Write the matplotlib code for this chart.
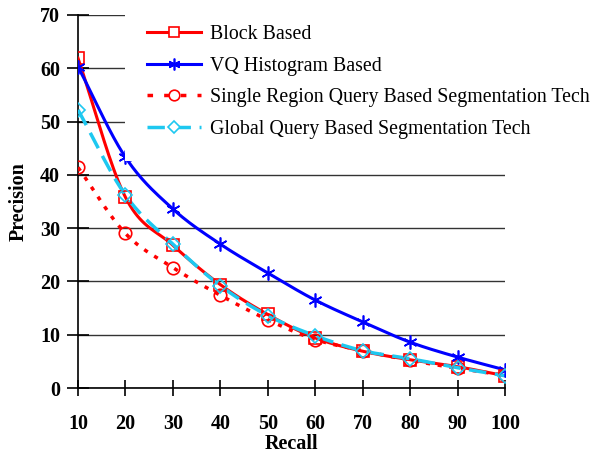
import numpy as np
import matplotlib
matplotlib.use('Agg')
import matplotlib.pyplot as plt
from matplotlib.lines import Line2D

plt.rcParams['font.family'] = ['Liberation Serif', 'DejaVu Serif']

recall = [10, 20, 30, 40, 50, 60, 70, 80, 90, 100]
block_based = [61.9, 35.8, 26.8, 19.4, 13.8, 9.4, 6.9, 5.3, 4.0, 2.3]
vq_histogram = [60.3, 43.3, 33.6, 27.0, 21.6, 16.5, 12.4, 8.6, 5.8, 3.4]
single_region = [41.4, 29.0, 22.6, 17.4, 12.8, 9.1, 7.0, 5.2, 3.7, 2.4]
global_query = [52.2, 36.2, 27.0, 19.2, 13.6, 9.8, 7.0, 5.5, 3.8, 2.3]

labels = ['Block Based', 'VQ Histogram Based',
          'Single Region Query Based Segmentation Tech',
          'Global Query Based Segmentation Tech']


def smooth(x, y, n=20):
    # catmull-rom curve through the points, like excel's smoothed line
    x = np.asarray(x, float)
    y = np.asarray(y, float)
    px = np.concatenate([[2 * x[0] - x[1]], x, [2 * x[-1] - x[-2]]])
    py = np.concatenate([[2 * y[0] - y[1]], y, [2 * y[-1] - y[-2]]])
    xs, ys = [], []
    t = np.linspace(0, 1, n, endpoint=False)
    for i in range(1, len(px) - 2):
        for p, out in ((px, xs), (py, ys)):
            p0, p1, p2, p3 = p[i - 1], p[i], p[i + 1], p[i + 2]
            out.extend(0.5 * ((2 * p1) + (-p0 + p2) * t
                              + (2 * p0 - 5 * p1 + 4 * p2 - p3) * t ** 2
                              + (-p0 + 3 * p1 - 3 * p2 + p3) * t ** 3))
    xs.append(x[-1])
    ys.append(y[-1])
    return xs, ys


fig = plt.figure(figsize=(5.9, 4.54), dpi=100)
ax = fig.add_axes([78 / 590, 66 / 454, 427 / 590, 373 / 454])

red = '#FF0000'
blue = '#0000FF'
cyan = '#1EC8F0'

styles = [
    dict(color=red, ls='-', marker='s', lw=2.2, ms=9),
    dict(color=blue, ls='-', marker=(6, 2, 0), lw=2.2, ms=10),
    dict(color=red, ls=(0, (1.2, 2.2)), marker='o', lw=2.5, ms=9),
    dict(color=cyan, ls=(0, (5, 2.5)), marker='D', lw=2.5, ms=7.5),
]
series = [block_based, vq_histogram, single_region, global_query]

handles = []
for vals, st, lab in zip(series, styles, labels):
    sx, sy = smooth(recall, vals)
    ax.plot(sx, sy, color=st['color'], ls=st['ls'], lw=st['lw'], zorder=3)
    ax.plot(recall, vals, ls='none', marker=st['marker'], ms=st['ms'],
            mfc='none', mec=st['color'], mew=1.2, zorder=4)
    leg_ls = (0, (1.6, 3.2)) if lab.startswith('Single') else st['ls']
    handles.append(Line2D([], [], color=st['color'], ls=leg_ls, lw=st['lw'],
                          marker=st['marker'], ms=st['ms'] * 0.85, mfc='white',
                          mec=st['color'], mew=1.2))

ax.set_xlim(10, 100)
ax.set_ylim(0, 70)
ax.set_xticks(recall)
ax.set_yticks(range(0, 71, 10))
ax.yaxis.grid(True, color='#333333', lw=1.0)
ax.set_axisbelow(True)
for s in ['top', 'right']:
    ax.spines[s].set_visible(False)
for s in ['left', 'bottom']:
    ax.spines[s].set_linewidth(1.2)
ax.tick_params(direction='inout', length=12, width=1.2, labelsize=14.5, pad=13)
ax.tick_params(axis='y', length=16, pad=5)
for lbl in ax.get_xticklabels() + ax.get_yticklabels():
    lbl.set_fontweight('bold')

ax.set_xlabel('Recall', fontsize=14.5, fontweight='bold', labelpad=0)
ax.set_ylabel('Precision', fontsize=14.5, fontweight='bold', labelpad=8)

leg = fig.legend(handles, labels, loc='upper left',
                 bbox_to_anchor=(125 / 590, 1 - 3 / 454),
                 fontsize=14.3, frameon=True, facecolor='white', edgecolor='none',
                 fancybox=False, framealpha=1, handlelength=2.75,
                 handletextpad=0.42, labelspacing=0.64, borderpad=1.1,
                 borderaxespad=0)
leg.set_zorder(2)

fig.savefig('out.png', dpi=100)
